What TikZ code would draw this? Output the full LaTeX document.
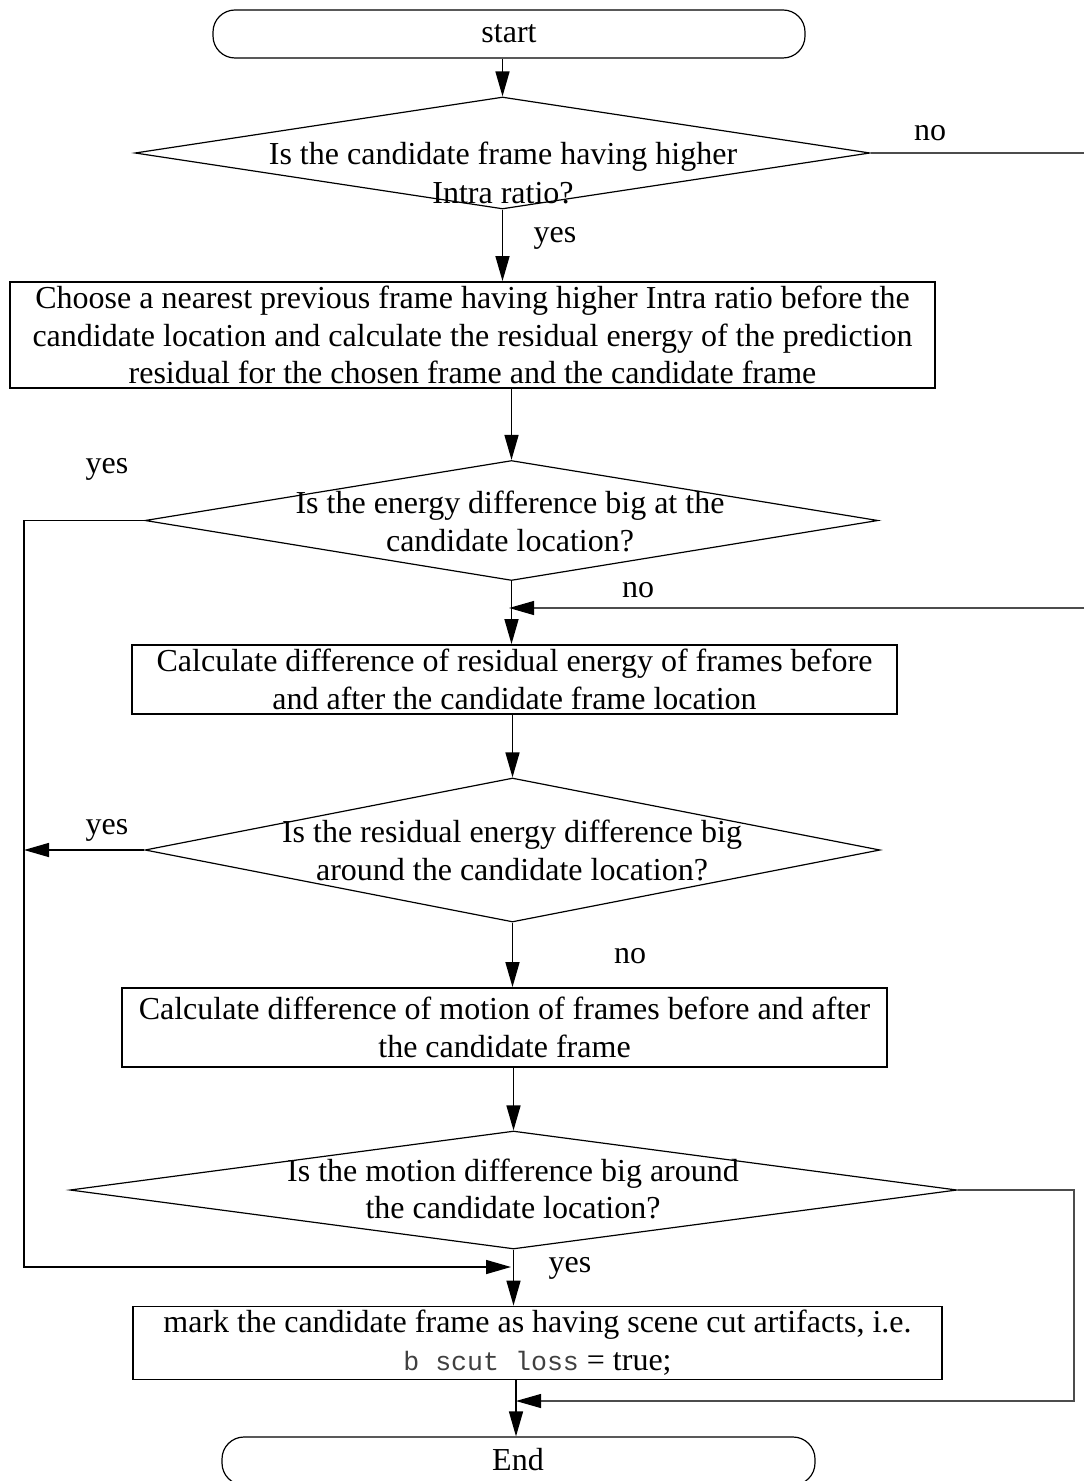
\documentclass[tikz,border=0pt]{standalone}
\usepackage{fontspec}
\setmainfont{Liberation Serif}
\newfontfamily\codefont{Liberation Mono}
\usetikzlibrary{arrows.meta,shapes.geometric}
\newdimen\pxu \pxu=0.5pt
\tikzset{
  every node/.style={font=\fontsize{16}{18.9}\selectfont},
  terminal/.style={draw, line width=0.6pt, rounded corners=22\pxu, inner sep=0pt},
  procbox/.style={draw, line width=0.9pt, align=center, inner sep=0pt},
  decision/.style={draw, diamond, line width=0.6pt, inner sep=0pt},
  dtext/.style={align=center, inner sep=0pt},
  lbl/.style={inner sep=0pt},
  flow/.style={line width=0.75pt, -{Triangle[length=12.5pt,width=7pt]}},
  thinflow/.style={line width=0.55pt, draw=black!70, -{Triangle[length=12.5pt,width=7pt,color=black,fill=black]}},
  wire/.style={line width=0.55pt, draw=black!70},
}
\begin{document}
\begin{tikzpicture}[x=0.5pt, y=-0.5pt]
\useasboundingbox (0,0) rectangle (1084,1481);
\clip (0,0) rectangle (1084,1481);

% terminals
\node[terminal, minimum width=592\pxu, minimum height=48\pxu] (start) at (509,34) {start};
\node[terminal, minimum width=593\pxu, minimum height=48\pxu] (stop) at (518.5,1461) {};
\node[lbl] (stoptext) at (518,1460) {End};

% decisions
\node[decision, minimum width=735\pxu, minimum height=112\pxu] (d1) at (502.5,153) {};
\node[dtext] (d1t) at (503,173) {Is the candidate frame having higher\\[1pt]Intra ratio?};
\node[decision, minimum width=733\pxu, minimum height=120\pxu] (d2) at (511.5,520.5) {};
\node[dtext] (d2t) at (510,521.5) {Is the energy difference big at the\\candidate location?};
\node[decision, minimum width=735\pxu, minimum height=144\pxu] (d3) at (512.5,850) {};
\node[dtext] (d3t) at (512,850.5) {Is the residual energy difference big\\around the candidate location?};
\node[decision, minimum width=887\pxu, minimum height=118\pxu] (d4) at (513.5,1190) {};
\node[dtext] (d4t) at (513,1189) {Is the motion difference big around\\the candidate location?};

% process boxes
\node[procbox, minimum width=925\pxu, minimum height=106\pxu] (b1) at (472.5,335)
  {Choose a nearest previous frame having higher Intra ratio before the\\candidate location and calculate the residual energy of the prediction\\residual for the chosen frame and the candidate frame};
\node[procbox, minimum width=765\pxu, minimum height=69\pxu] (b2) at (514.5,679.5)
  {Calculate difference of residual energy of frames before\\and after the candidate frame location};
\node[procbox, minimum width=765\pxu, minimum height=79\pxu] (b3) at (504.5,1027.5)
  {Calculate difference of motion of frames before and after\\the candidate frame};
\node[procbox, minimum width=809\pxu, minimum height=73\pxu] (b4) at (537.5,1343)
  {mark the candidate frame as having scene cut artifacts, i.e.\\{\codefont\color{black!75}\fontsize{13.3}{19}\selectfont b scut loss} = true;};

% branch labels
\node[lbl] (l1) at (930,133) {no};
\node[lbl] (l2) at (555,238) {yes};
\node[lbl] (l3) at (107,469) {yes};
\node[lbl] (l4) at (638,590) {no};
\node[lbl] (l5) at (107,830) {yes};
\node[lbl] (l6) at (630,956) {no};
\node[lbl] (l7) at (570,1268) {yes};

% routing points
\coordinate (noA) at (1084,153);
\coordinate (noB) at (1084,608);
\coordinate (joinNo) at (509,608);
\coordinate (leftTop) at (24,520.5);
\coordinate (leftBot) at (24,1267);
\coordinate (joinYes) at (511,1267);
\coordinate (leftMid) at (24,850);
\coordinate (rightTop) at (1074,1190);
\coordinate (rightBot) at (1074,1401);
\coordinate (joinEnd) at (516,1401);

% connectors
\draw[flow] (start.south -| d1.north) -- (d1.north);
\draw[wire] (d1.east) -- (noA);
\draw[flow] (d1.south) -- (d1.south |- b1.north);
\draw[flow] (d2.north |- b1.south) -- (d2.north);
\draw[flow] (d2.south) -- (d2.south |- b2.north);
\draw[thinflow] (noB) -- (joinNo);
\draw[flow] (d3.north |- b2.south) -- (d3.north);
\draw[flow] (d3.west) -- (leftMid);
\draw[flow] (d3.south) -- (d3.south |- b3.north);
\draw[flow] (d4.north |- b3.south) -- (d4.north);
\draw[flow] (d2.west) -- (leftTop) -- (leftBot) -- (joinYes);
\draw[flow] (d4.south) -- (d4.south |- b4.north);
\draw[thinflow] (d4.east) -- (rightTop) -- (rightBot) -- (joinEnd);
\draw[flow] (joinEnd |- b4.south) -- (joinEnd |- stop.north);
\end{tikzpicture}
\end{document}
